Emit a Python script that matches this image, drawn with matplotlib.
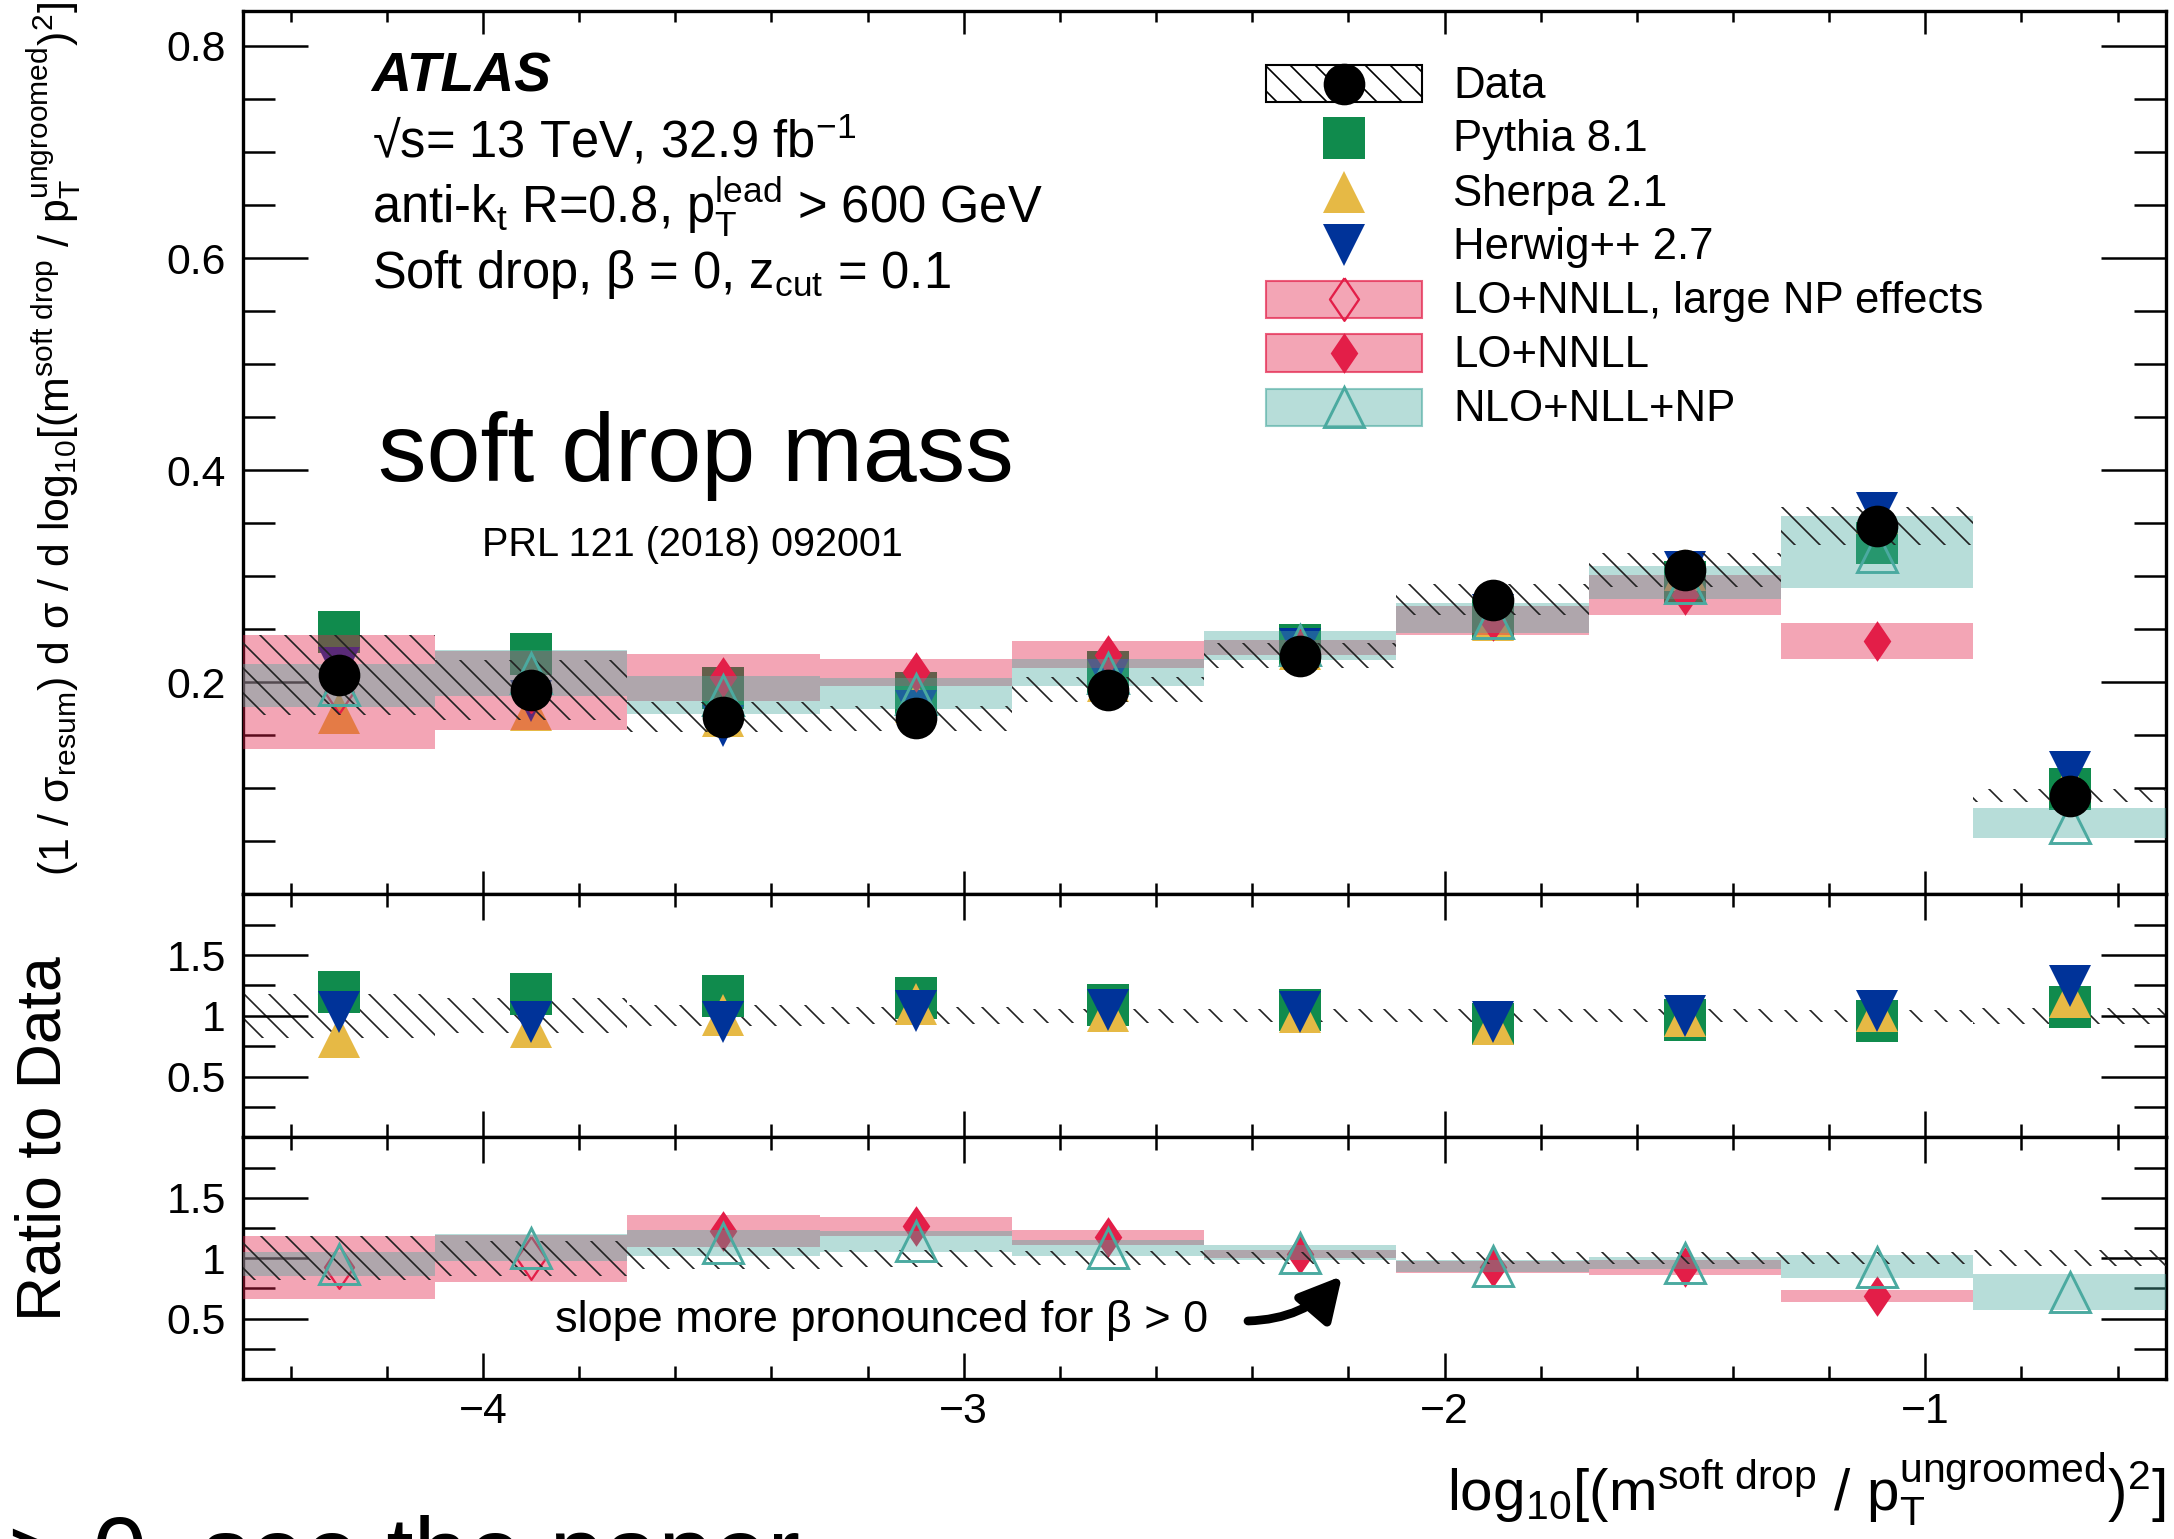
import numpy as np
import matplotlib.pyplot as plt
from matplotlib.patches import Rectangle, FancyArrowPatch, ArrowStyle
from matplotlib.lines import Line2D
from matplotlib.ticker import MultipleLocator

plt.rcParams['font.family'] = ['Liberation Sans', 'DejaVu Sans']
plt.rcParams['mathtext.fontset'] = 'custom'
plt.rcParams['mathtext.rm'] = 'Liberation Sans'
plt.rcParams['mathtext.it'] = 'Liberation Sans:italic'
plt.rcParams['mathtext.bf'] = 'Liberation Sans:bold'
plt.rcParams['mathtext.default'] = 'regular'
plt.rcParams['hatch.linewidth'] = 0.8
plt.rcParams['hatch.color'] = '#222222'
plt.rcParams['axes.linewidth'] = 1.6

# bins in log10[(m_sd / pT)^2]
edges = [-4.5, -4.1, -3.7, -3.3, -2.9, -2.5, -2.1, -1.7, -1.3, -0.9, -0.5]

data = [0.207, 0.1925, 0.167, 0.166, 0.193, 0.225, 0.278, 0.3055, 0.347, 0.093]
data_err = [0.038, 0.028, 0.0143, 0.0117, 0.0116, 0.0117, 0.0145, 0.016, 0.018, 0.006]

pythia = [0.2476, 0.2266, 0.1942, 0.1902, 0.2096, 0.2351, 0.2599, 0.2942, 0.3314, 0.0995]
sherpa = [0.1714, 0.1742, 0.1685, 0.1816, 0.2011, 0.2315, 0.2591, 0.3058, 0.3598, 0.1076]
herwig = [0.2130, 0.1821, 0.1588, 0.1730, 0.2023, 0.2315, 0.2630, 0.3043, 0.3598, 0.1156]

# LO+NNLL: first two bins have large NP effects, no prediction in the last bin
lo_nnll = [0.191, 0.192, 0.2045, 0.2096, 0.226, 0.233, 0.258, 0.282, 0.239, np.nan]
lo_nnll_err = [0.054, 0.037, 0.0225, 0.0127, 0.0126, 0.007, 0.0137, 0.019, 0.017, np.nan]
large_np = [True, True, False, False, False, False, False, False, False, False]

nlo_nll = [0.197, 0.209, 0.188, 0.189, 0.209, 0.235, 0.2606, 0.294, 0.323, 0.067]
nlo_nll_err = [0.020, 0.0217, 0.018, 0.0146, 0.013, 0.0137, 0.014, 0.0152, 0.034, 0.014]

legend_labels = ['Data', 'Pythia 8.1', 'Sherpa 2.1', 'Herwig++ 2.7',
                 'LO+NNLL, large NP effects', 'LO+NNLL', 'NLO+NLL+NP']

GREEN = '#108b4d'
YELLOW = '#e6b945'
BLUE = '#003399'
RED = '#e31e48'
TEAL = '#4baaa0'
HATCH = '\\\\'

W, H = 2174, 1539
DPI = 150

edges = np.array(edges)
centers = 0.5 * (edges[:-1] + edges[1:])
widths = np.diff(edges)
data = np.array(data)
data_err = np.array(data_err)
pythia, sherpa, herwig = map(np.array, (pythia, sherpa, herwig))
lo_nnll, lo_nnll_err = np.array(lo_nnll), np.array(lo_nnll_err)
nlo_nll, nlo_nll_err = np.array(nlo_nll), np.array(nlo_nll_err)
large_np = np.array(large_np)

DIAMOND = [(0, 1), (0.68, 0), (0, -1), (-0.68, 0), (0, 1)]


def band(ax, val, err, color, z):
    ok = ~np.isnan(val)
    ax.bar(centers[ok], 2 * err[ok], bottom=(val - err)[ok], width=widths[ok],
           color=color, alpha=0.4, lw=0, zorder=z)


def hatch_band(ax, val, err, z):
    ax.bar(centers, 2 * err, bottom=val - err, width=widths, facecolor='none',
           edgecolor='#222222', lw=0, hatch=HATCH, zorder=z)


def mc_markers(ax, p, s, h):
    ax.plot(centers, p, ls='none', marker='s', ms=20.5, color=GREEN, mew=0, zorder=2)
    ax.plot(centers, s, ls='none', marker='^', ms=20, color=YELLOW, mew=0, zorder=2.1)
    ax.plot(centers, h, ls='none', marker='v', ms=20, color=BLUE, mew=0, zorder=2.2)


def theory(ax, lo, lo_e, nlo, nlo_e):
    band(ax, lo, lo_e, RED, 3)
    filled = ~large_np
    ax.plot(centers[filled], lo[filled], ls='none', marker=DIAMOND, ms=19.5,
            color=RED, mew=0, zorder=3.5)
    ax.plot(centers[large_np], lo[large_np], ls='none', marker=DIAMOND, ms=20.5,
            mfc='none', mec=RED, mew=1.1, zorder=3.5)
    band(ax, nlo, nlo_e, TEAL, 4)
    ax.plot(centers, nlo, ls='none', marker='^', ms=19, mfc='none', mec=TEAL,
            mew=1.4, zorder=5)


fig = plt.figure(figsize=(W / DPI, H / DPI), dpi=DPI)
ax1 = fig.add_axes([0.11159, 0.41891, 0.88459, 0.57394])
ax2 = fig.add_axes([0.11159, 0.26101, 0.88459, 0.15789], sharex=ax1)
ax3 = fig.add_axes([0.11159, 0.10396, 0.88459, 0.15705], sharex=ax1)

# main distribution
mc_markers(ax1, pythia, sherpa, herwig)
theory(ax1, lo_nnll, lo_nnll_err, nlo_nll, nlo_nll_err)
hatch_band(ax1, data, data_err, 4.5)
ax1.plot(centers, data, ls='none', marker='o', ms=20, color='black', mew=0, zorder=6)

# MC / data
hatch_band(ax2, np.ones_like(data), data_err / data, 1.5)
mc_markers(ax2, pythia / data, sherpa / data, herwig / data)

# theory / data
theory(ax3, lo_nnll / data, lo_nnll_err / data, nlo_nll / data, nlo_nll_err / data)
hatch_band(ax3, np.ones_like(data), data_err / data, 4.5)

ax1.set_xlim(-4.5, -0.5)
ax1.set_ylim(0, 0.833)
ax1.set_yticks([0.2, 0.4, 0.6, 0.8])
ax1.set_yticklabels(['0.2', '0.4', '0.6', '0.8'])
ax1.yaxis.set_minor_locator(MultipleLocator(0.05))
for ax in (ax2, ax3):
    ax.set_ylim(0, 2)
    ax.set_yticks([0.5, 1, 1.5])
    ax.set_yticklabels(['0.5', '1', '1.5'])
    ax.yaxis.set_minor_locator(MultipleLocator(0.25))

ax3.set_xticks([-4, -3, -2, -1])
for ax in (ax1, ax2, ax3):
    ax.xaxis.set_minor_locator(MultipleLocator(0.2))
    ax.tick_params(which='both', direction='in', top=True, right=True,
                   width=1.2, labelsize=20.5)
    ax.tick_params(axis='y', which='major', length=31, pad=8)
    ax.tick_params(axis='y', which='minor', length=15.5)
ax1.tick_params(axis='x', which='major', length=11, labelbottom=False)
ax1.tick_params(axis='x', which='minor', length=5.3)
for ax in (ax2, ax3):
    ax.tick_params(axis='x', which='major', length=12.5)
    ax.tick_params(axis='x', which='minor', length=6.2)
ax2.tick_params(axis='x', labelbottom=False)
ax3.tick_params(axis='x', pad=6)


def fxy(x, y):
    return x / W, 1 - y / H


# axis titles
fig.text(*fxy(55, 2), r'(1 / σ$_{resum}$) d σ / d log$_{10}$[(m$^{soft\ drop}$ / p$_{T}^{ungroomed}$)$^{2}$]',
         rotation=90, ha='center', va='top', fontsize=20.6)
fig.text(*fxy(44, 1139), 'Ratio to Data', rotation=90, ha='center', va='center', fontsize=30)
fig.text(*fxy(2166, 1511), r'log$_{10}$[(m$^{soft\ drop}$ / p$_{T}^{ungroomed}$)$^{2}$]',
         ha='right', va='baseline', fontsize=28)

# labels
fig.text(*fxy(371, 92), 'ATLAS', fontsize=26.5, fontweight='bold', fontstyle='italic', va='baseline')
fig.text(*fxy(372, 157), r'√s= 13 TeV, 32.9 fb$^{-1}$', fontsize=24.3, va='baseline')
fig.text(*fxy(372, 223), r'anti-k$_{t}$ R=0.8, p$_{T}^{lead}$ > 600 GeV', fontsize=24.3, va='baseline')
fig.text(*fxy(372, 288), r'Soft drop, β = 0, z$_{cut}$ = 0.1', fontsize=24.3, va='baseline')
fig.text(*fxy(378, 481), 'soft drop mass', fontsize=46.5, va='baseline')
fig.text(*fxy(482, 556), 'PRL 121 (2018) 092001', fontsize=19, va='baseline')
fig.text(*fxy(555, 1332), 'slope more pronounced for β > 0', fontsize=21.7, va='baseline')
fig.text(*fxy(8, 1586), '> 0, see the paper', fontsize=47, va='baseline')

arrow = FancyArrowPatch(fxy(1248, 1321), fxy(1342, 1276), transform=fig.transFigure,
                        connectionstyle='arc3,rad=0.22',
                        arrowstyle=ArrowStyle('-|>', head_length=17, head_width=9),
                        lw=4.2, color='black', shrinkA=0, shrinkB=0)
fig.add_artist(arrow)

# legend
rows = [83.5, 137.5, 191.7, 244.5, 299, 353, 407]
bx0, bx1, bh = 1266, 1422, 37
mx = 1344


def leg_box(y, **kw):
    x0, y0 = fxy(bx0, y + bh / 2)
    fig.add_artist(Rectangle((x0, y0), (bx1 - bx0) / W, bh / H,
                             transform=fig.transFigure, **kw))


def leg_marker(y, **kw):
    x, yy = fxy(mx, y)
    fig.add_artist(Line2D([x], [yy], transform=fig.transFigure, ls='none', **kw))


leg_box(rows[0], facecolor='none', edgecolor='black', lw=1.0, hatch=HATCH)
leg_marker(rows[0], marker='o', ms=20, color='black', mew=0)
leg_marker(rows[1], marker='s', ms=20.5, color=GREEN, mew=0)
leg_marker(rows[2], marker='^', ms=20, color=YELLOW, mew=0)
leg_marker(rows[3], marker='v', ms=20, color=BLUE, mew=0)
for r, filled in ((rows[4], False), (rows[5], True)):
    leg_box(r, facecolor=(0.89, 0.118, 0.282, 0.4), edgecolor=(0.89, 0.118, 0.282, 0.7), lw=1.0)
    if filled:
        leg_marker(r, marker=DIAMOND, ms=19.5, color=RED, mew=0)
    else:
        leg_marker(r, marker=DIAMOND, ms=20.5, mfc='none', mec=RED, mew=1.1)
leg_box(rows[6], facecolor=(0.294, 0.667, 0.627, 0.4), edgecolor=(0.294, 0.667, 0.627, 0.6), lw=1.0)
leg_marker(rows[6], marker='^', ms=19, mfc='none', mec=TEAL, mew=1.4)

for r, lab in zip(rows, legend_labels):
    fig.text(*fxy(1453, r + 14), lab, fontsize=21, va='baseline')

fig.savefig('out.png', dpi=DPI)
